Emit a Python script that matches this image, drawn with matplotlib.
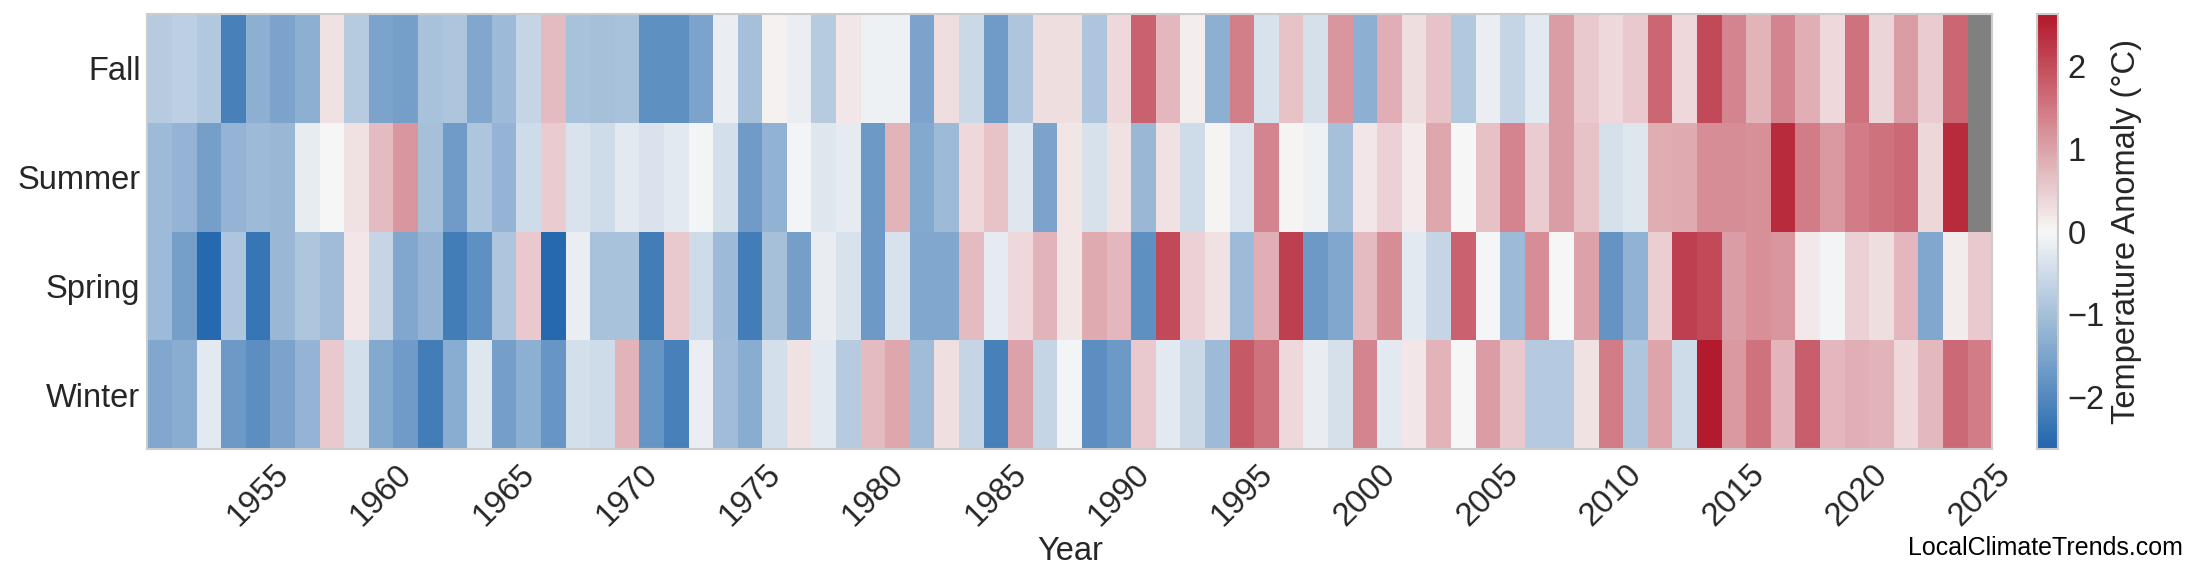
import matplotlib
import matplotlib.pyplot as plt
from matplotlib.colors import LinearSegmentedColormap
import numpy as np

matplotlib.use('Agg')

years = list(range(1951, 2026))
seasons = ['Winter', 'Spring', 'Summer', 'Fall']

winter = [
    -1.45, -1.35, -0.25, -1.7, -1.9, -1.5, -1.2, 0.55, -0.45, -1.4,
    -1.65, -2.2, -1.35, -0.3, -1.6, -1.3, -1.75, -0.45, -0.5, 0.8,
    -1.75, -2.15, -0.15, -1.05, -1.35, -0.45, 0.25, -0.25, -0.8, 0.7,
    0.95, -1.05, 0.28, -0.6, -2.15, 1.0, -0.6, -0.05, -1.9, -1.7,
    0.55, -0.25, -0.55, -1.1, 1.85, 1.55, 0.35, -0.18, -0.42, 1.35,
    -0.25, 0.2, 0.8, -0.02, 1.05, 0.55, -0.82, -0.82, 0.25, 1.45,
    -0.9, 0.98, -0.5, 2.6, 1.1, 1.55, 0.78, 1.8, 0.75, 0.85,
    0.8, 0.35, 0.72, 1.65, 1.45,
]
spring = [
    -1.1, -1.6, -2.55, -0.9, -2.35, -1.15, -0.9, -1.05, 0.2, -0.6,
    -1.45, -1.2, -2.2, -1.85, -0.9, 0.55, -2.55, -0.15, -0.95, -0.95,
    -2.2, 0.55, -0.5, -1.1, -2.2, -1.0, -1.6, -0.18, -0.38, -1.7,
    -0.38, -1.45, -1.45, 0.7, -0.22, 0.35, 0.8, 0.22, 0.9, 0.75,
    -1.85, 2.05, 0.45, 0.25, -1.1, 0.85, 2.15, -1.7, -1.45, 0.7,
    1.25, -0.25, -0.6, 1.75, -0.03, -1.1, 1.25, 0.0, 1.0, -1.8,
    -1.25, 0.48, 2.15, 2.05, 1.05, 1.22, 1.15, 0.18, -0.06, 0.45,
    0.3, 0.75, -1.45, 0.13, 0.55,
]
summer = [
    -1.1, -1.2, -1.6, -1.2, -1.1, -1.15, -0.2, 0.0, 0.25, 0.7,
    1.15, -1.0, -1.65, -0.9, -1.2, -0.5, 0.5, -0.35, -0.5, -0.25,
    -0.35, -0.25, -0.05, -0.45, -1.65, -1.25, -0.06, -0.3, -0.22, -1.7,
    0.8, -1.4, -1.1, 0.35, 0.6, -0.3, -1.5, 0.22, -0.4, 0.25,
    -1.15, 0.25, -0.5, 0.05, -0.32, 1.35, 0.05, -0.12, -1.0, 0.2,
    0.45, 0.15, 0.95, 0.0, 0.62, 1.35, 0.5, 1.05, 0.6, -0.42,
    -0.3, 0.88, 0.9, 1.25, 1.25, 1.22, 2.4, 1.45, 1.1, 1.45,
    1.55, 1.65, 0.38, 2.4, np.nan,
]
fall = [
    -0.8, -0.7, -0.85, -2.15, -1.3, -1.5, -1.3, 0.25, -0.8, -1.5,
    -1.6, -0.95, -0.9, -1.45, -1.1, -0.6, 0.7, -0.95, -1.0, -0.95,
    -1.85, -1.85, -1.5, -0.15, -1.0, 0.08, -0.15, -0.8, 0.2, -0.12,
    -0.12, -1.5, 0.3, -0.55, -1.65, -0.9, 0.3, 0.3, -0.9, 0.35,
    1.75, 0.75, 0.12, -1.3, 1.4, -0.38, 0.6, -0.42, 1.15, -1.3,
    0.85, 0.3, 0.6, -0.85, -0.15, -0.6, -0.25, 1.05, 0.55, 0.35,
    0.55, 1.7, 0.35, 2.05, 1.35, 0.8, 1.35, 0.85, 0.35, 1.55,
    0.4, 1.05, 0.5, 1.7, np.nan,
]

plt.rcParams['font.family'] = ['Liberation Sans', 'DejaVu Sans']
plt.rcParams['text.color'] = '#262626'
plt.rcParams['xtick.color'] = '#262626'
plt.rcParams['ytick.color'] = '#262626'
plt.rcParams['axes.labelcolor'] = '#262626'

cmap = LinearSegmentedColormap.from_list('anom', ['#2166ac', '#f7f7f7', '#b2182b'])
cmap.set_bad('#808080')

data = np.ma.masked_invalid(np.array([winter, spring, summer, fall]))
x_edges = np.arange(years[0] - 0.5, years[-1] + 1.0, 1.0)
y_edges = np.arange(len(seasons) + 1)

fig = plt.figure(figsize=(22, 5.85), dpi=100)
ax = fig.add_axes([0.067, 0.2325, 0.8385, 0.7435])
cax = fig.add_axes([0.926, 0.2325, 0.0095, 0.7435])

mesh = ax.pcolormesh(x_edges, y_edges, data, cmap=cmap, vmin=-2.63, vmax=2.63)

ax.set_xlim(x_edges[0], x_edges[-1])
ax.set_ylim(0, len(seasons))
ax.set_xticks(list(range(1955, 2026, 5)))
ax.set_xticklabels([str(y) for y in range(1955, 2026, 5)], rotation=45, ha='center')
ax.set_yticks(np.arange(len(seasons)) + 0.5)
ax.set_yticklabels(seasons)
ax.tick_params(axis='both', length=0, labelsize=23.5)
ax.tick_params(axis='x', pad=7)
ax.tick_params(axis='y', pad=5)
ax.set_xlabel('Year', fontsize=23.5, labelpad=3)
for s in ax.spines.values():
    s.set_edgecolor('#cccccc')
    s.set_linewidth(1.5)

cb = fig.colorbar(mesh, cax=cax)
cb.set_ticks([-2, -1, 0, 1, 2])
cb.ax.tick_params(length=0, labelsize=23.5, pad=7)
cb.outline.set_edgecolor('#cccccc')
cb.outline.set_linewidth(1.5)
cb.set_label('Temperature Anomaly (°C)', fontsize=23.5, labelpad=4)

fig.text(0.992, 0.051, 'LocalClimateTrends.com', fontsize=18, ha='right', va='baseline', color='black')

plt.savefig('out.png', dpi=100)
